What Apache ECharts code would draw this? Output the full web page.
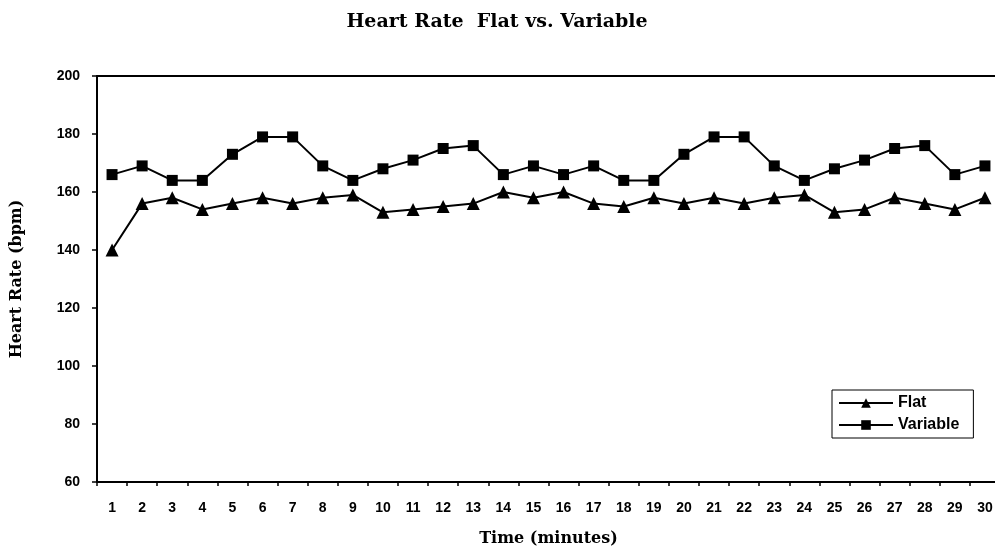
<!DOCTYPE html>
<html><head><meta charset="utf-8">
<script src="https://cdn.jsdelivr.net/npm/echarts@6/dist/echarts.min.js"></script>
<style>html,body{margin:0;padding:0;background:#fff;overflow:hidden}#c{width:1000px;height:551px}</style>
</head><body><div id="c"></div>
<script>
const minutes = ['1','2','3','4','5','6','7','8','9','10','11','12','13','14','15','16','17','18','19','20','21','22','23','24','25','26','27','28','29','30'];
const flat = [140,156,158,154,156,158,156,158,159,153,154,155,156,160,158,160,156,155,158,156,158,156,158,159,153,154,158,156,154,158];
const variable = [166,169,164,164,173,179,179,169,164,168,171,175,176,166,169,166,169,164,164,173,179,179,169,164,168,171,175,176,166,169];
const yTicks = {min:60, max:200, step:20};

const chart = echarts.init(document.getElementById('c'));
const sans = 'Liberation Sans, Arial, sans-serif';
const serif = 'DejaVu Serif, serif';
chart.setOption({
  animation:false,
  backgroundColor:'#fff',
  title:{text:'Heart Rate  Flat vs. Variable', left:492, textAlign:'center', top:8,
    textStyle:{fontFamily:serif, fontWeight:'bold', fontSize:19, color:'#000'}},
  grid:{left:97, right:0, top:76, bottom:69, show:false, outerBoundsMode:'none', containLabel:false},
  legend:{left:832, top:390, orient:'vertical', itemWidth:54, itemHeight:12, itemGap:6,
    padding:[5,14,5,6], borderColor:'#000', borderWidth:1,
    textStyle:{fontFamily:sans, fontWeight:'bold', fontSize:16, color:'#000'},
    data:['Flat','Variable']},
  xAxis:[{type:'category', data:minutes, boundaryGap:true,
    name:'Time (minutes)', nameLocation:'middle', nameGap:49,
    nameTextStyle:{fontFamily:serif, fontWeight:'bold', fontSize:16, color:'#000'},
    axisLine:{lineStyle:{color:'#000', width:2}},
    axisTick:{show:true, alignWithLabel:false, interval:0, length:4, lineStyle:{color:'#000', width:1.5}},
    axisLabel:{interval:0, margin:19, fontFamily:sans, fontWeight:'bold', fontSize:14, color:'#000'},
    splitLine:{show:false}},
   {type:'category', data:minutes, position:'top', boundaryGap:true,
    axisLine:{show:true, lineStyle:{color:'#000', width:2}},
    axisTick:{show:false}, axisLabel:{show:false}, splitLine:{show:false}}],
  yAxis:{type:'value', min:yTicks.min, max:yTicks.max, interval:yTicks.step,
    name:'Heart Rate (bpm)', nameLocation:'middle', nameGap:72,
    nameTextStyle:{fontFamily:serif, fontWeight:'bold', fontSize:16, color:'#000'},
    axisLine:{show:true, lineStyle:{color:'#000', width:2}},
    axisTick:{show:true, length:5, lineStyle:{color:'#000', width:1.5}},
    axisLabel:{margin:17, fontFamily:sans, fontWeight:'bold', fontSize:14, color:'#000'},
    splitLine:{show:false}},
  series:[
    {name:'Flat', type:'line', data:flat, symbol:'triangle', symbolSize:13,
      lineStyle:{color:'#000', width:2}, itemStyle:{color:'#000'}},
    {name:'Variable', type:'line', data:variable, symbol:'rect', symbolSize:11,
      lineStyle:{color:'#000', width:2}, itemStyle:{color:'#000'}}
  ]
});
</script></body></html>
